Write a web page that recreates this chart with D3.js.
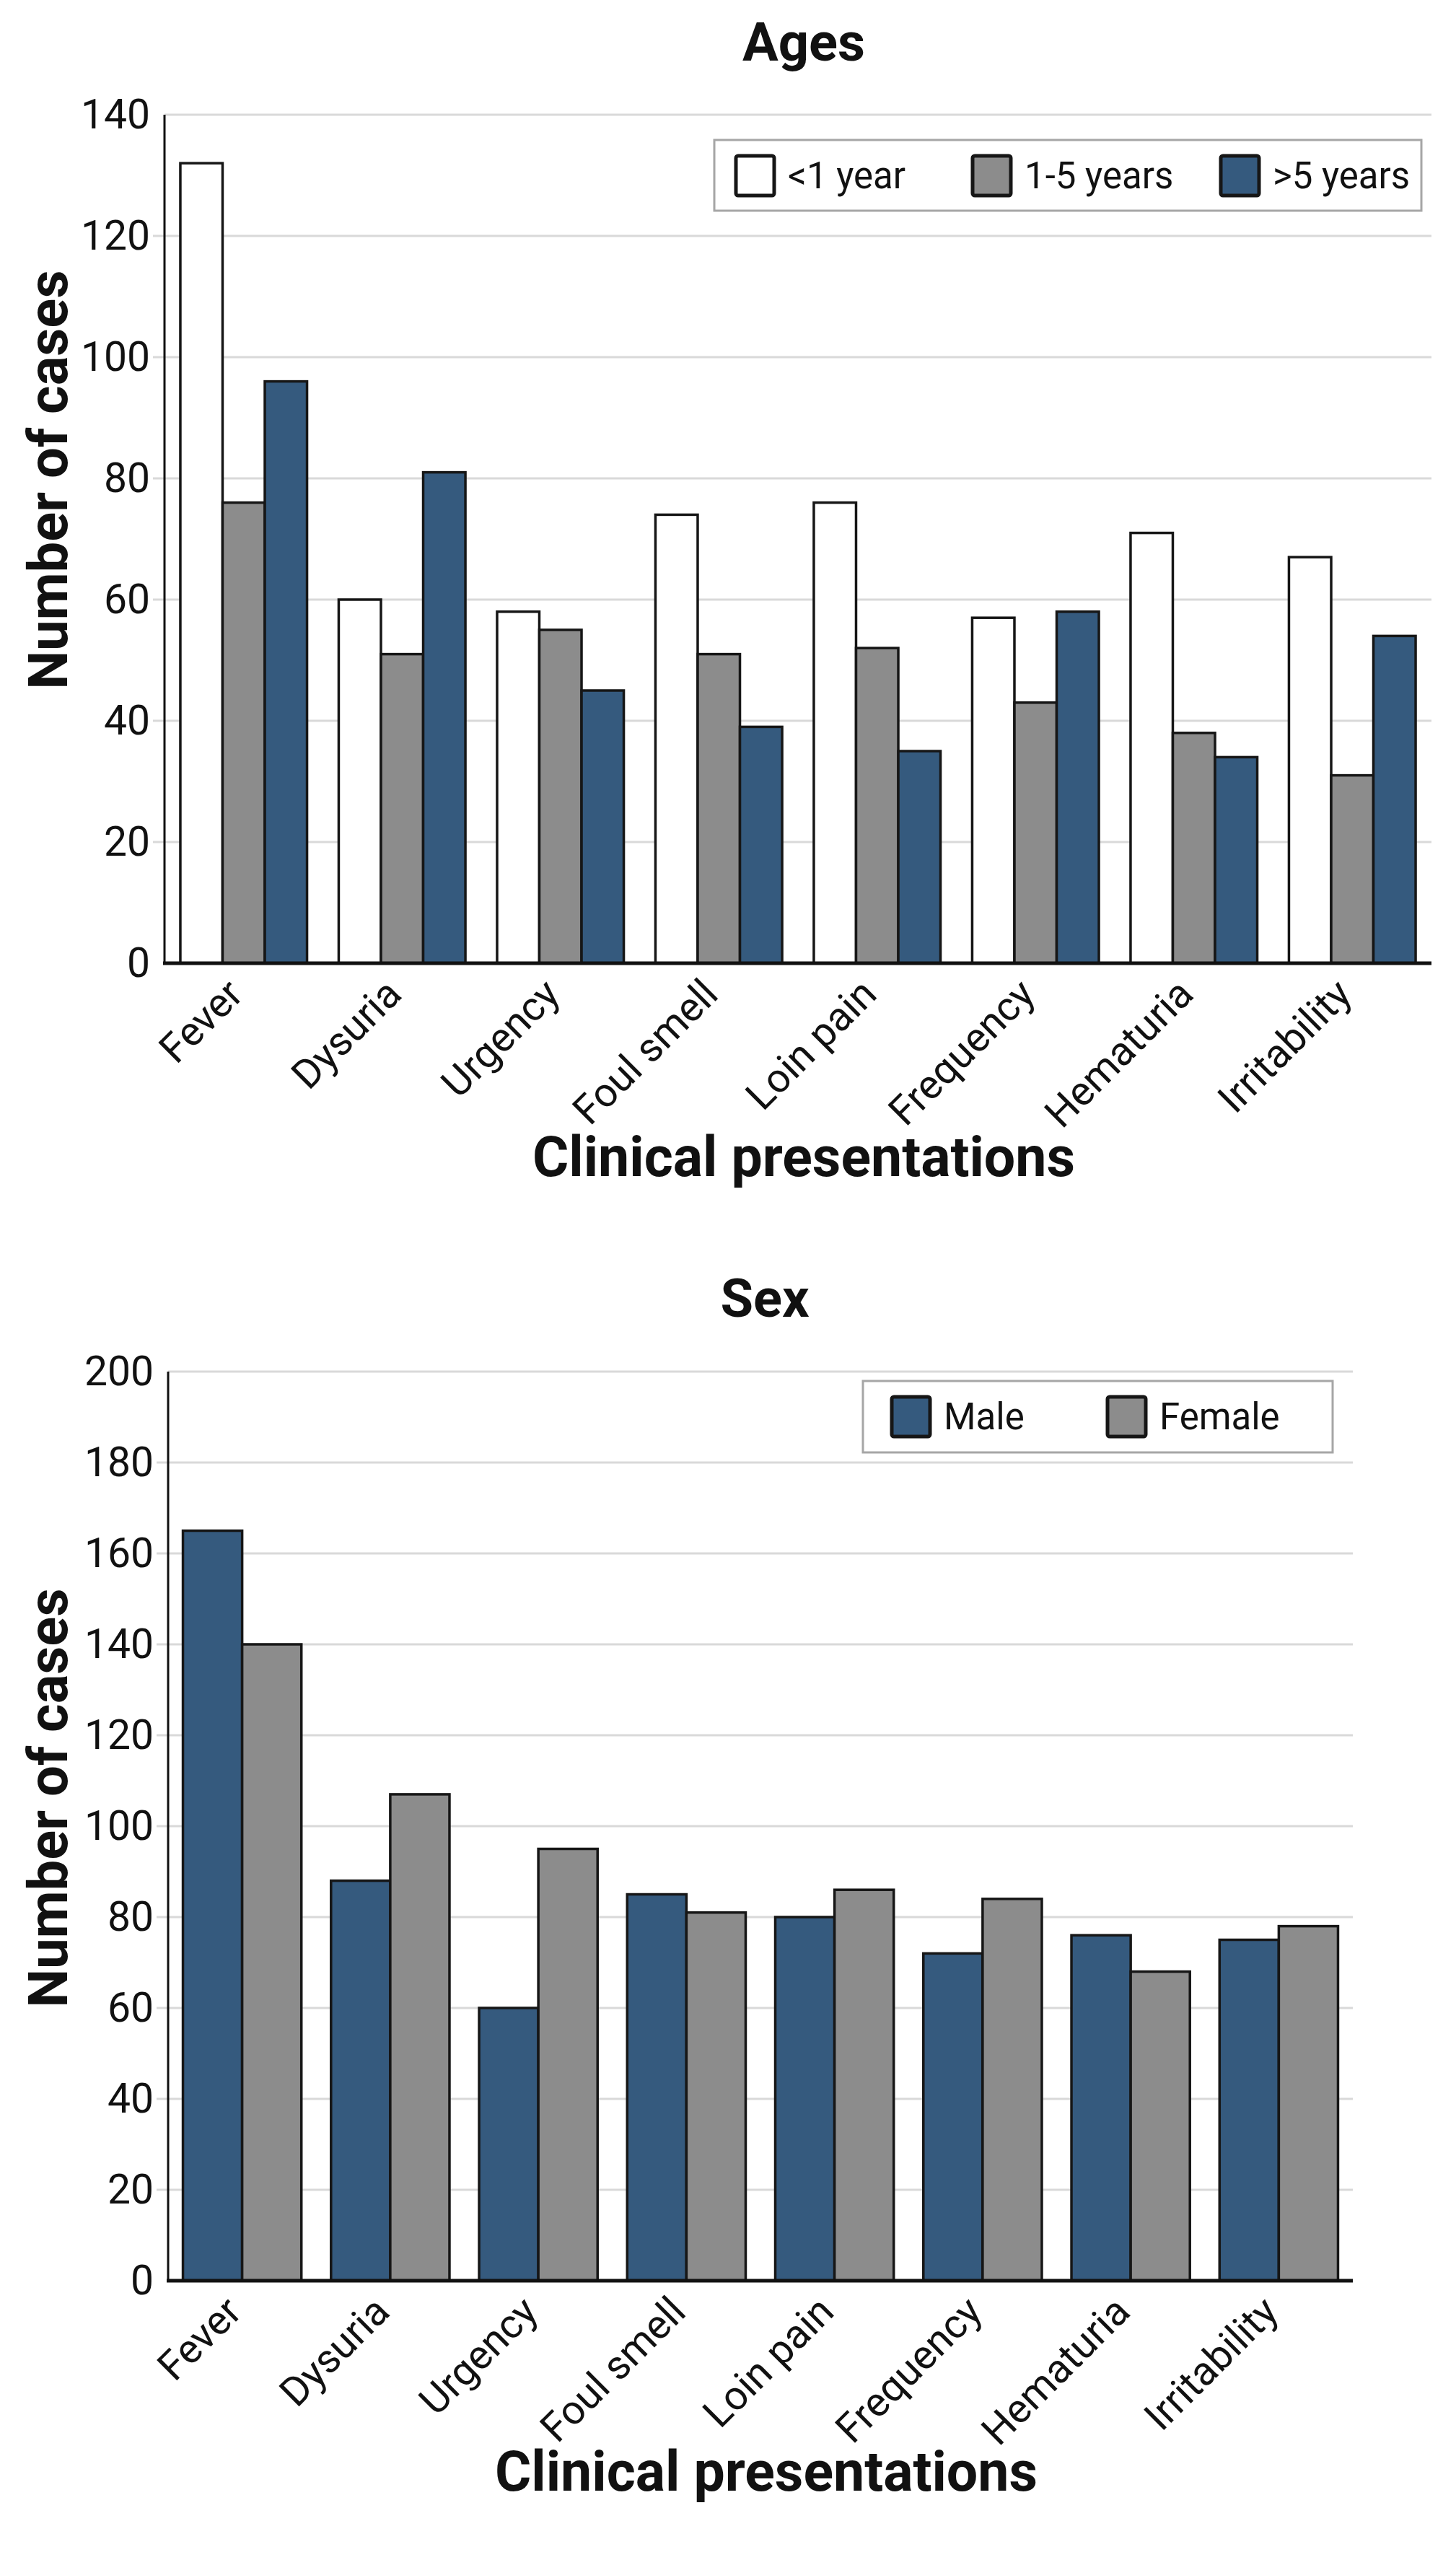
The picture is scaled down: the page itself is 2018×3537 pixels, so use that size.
<!DOCTYPE html>
<html>
<head>
<meta charset="utf-8">
<script src="https://cdn.jsdelivr.net/npm/d3@7"></script>
<style>
  body { margin: 0; background: #fff; }
  text { font-family: Roboto, "Open Sans", sans-serif; fill: #111; }
</style>
</head>
<body>
<svg id="chart" width="2018" height="3537"></svg>
<script>
// data
var categories = ["Fever", "Dysuria", "Urgency", "Foul smell", "Loin pain", "Frequency", "Hematuria", "Irritability"];

var ageSeries = ["<1 year", "1-5 years", ">5 years"];
var ageUnder1 = [132, 60, 58, 74, 76, 57, 71, 67];
var age1to5 = [76, 51, 55, 51, 52, 43, 38, 31];
var ageOver5 = [96, 81, 45, 39, 35, 58, 34, 54];
var ageTicks = [0, 20, 40, 60, 80, 100, 120, 140];

var sexSeries = ["Male", "Female"];
var sexMale = [165, 88, 60, 85, 80, 72, 76, 75];
var sexFemale = [140, 107, 95, 81, 86, 84, 68, 78];
var sexTicks = [0, 20, 40, 60, 80, 100, 120, 140, 160, 180, 200];

var WHITE = "#ffffff", GRAY = "#8c8c8c", BLUE = "#355a7e";

var svg = d3.select("#chart");

function drawPanel(opt) {
	var g = svg.append("g");
	var x0 = d3.scaleBand()
		.domain(categories)
		.range([opt.left, opt.right])
		.paddingInner(0.2)
		.paddingOuter(0.1);
	var x1 = d3.scaleBand()
		.domain(opt.series)
		.range([0, x0.bandwidth()]);
	var y = d3.scaleLinear()
		.domain([0, opt.max])
		.range([opt.bottom, opt.top]);

	// gridlines + little gray ticks left of the axis
	g.append("g").selectAll("line")
		.data(opt.ticks.filter(function(d) { return d > 0; }))
		.join("line")
		.attr("x1", function(d) { return d == opt.max ? opt.left : opt.left - 16; })
		.attr("x2", opt.right)
		.attr("y1", function(d) { return y(d); })
		.attr("y2", function(d) { return y(d); })
		.attr("stroke", "#d9d9d9")
		.attr("stroke-width", 3);

	// y axis
	var yAxis = d3.axisLeft(y).tickValues(opt.ticks).tickSize(0).tickPadding(20);
	var ya = g.append("g")
		.attr("transform", "translate(" + opt.left + ",0)")
		.call(yAxis);
	ya.select(".domain").remove();
	ya.selectAll("text")
		.attr("font-size", 57)
		.attr("font-family", "Roboto, sans-serif")
		.attr("fill", "#111");
	g.append("line")
		.attr("x1", opt.left).attr("x2", opt.left)
		.attr("y1", opt.top).attr("y2", opt.bottom)
		.attr("stroke", "#111").attr("stroke-width", 3);

	// bars
	var groups = g.append("g").selectAll("g")
		.data(categories)
		.join("g")
		.attr("transform", function(d) { return "translate(" + x0(d) + ",0)"; });
	groups.selectAll("rect")
		.data(function(d, i) {
			return opt.series.map(function(s, k) { return {key: s, value: opt.values[k][i], color: opt.colors[k]}; });
		})
		.join("rect")
		.attr("x", function(d) { return x1(d.key); })
		.attr("y", function(d) { return y(d.value); })
		.attr("width", x1.bandwidth())
		.attr("height", function(d) { return y(0) - y(d.value); })
		.attr("fill", function(d) { return d.color; })
		.attr("stroke", "#161616")
		.attr("stroke-width", 3.5);

	// x baseline
	g.append("line")
		.attr("x1", opt.left - 2).attr("x2", opt.right)
		.attr("y1", opt.bottom).attr("y2", opt.bottom)
		.attr("stroke", "#111").attr("stroke-width", 5);

	// category labels
	g.append("g").selectAll("text")
		.data(categories)
		.join("text")
		.attr("transform", function(d) {
			return "translate(" + (x0(d) + x0.bandwidth() / 2 + 2) + "," + (opt.bottom + 46) + ") rotate(-45)";
		})
		.attr("text-anchor", "end")
		.attr("font-size", 56)
		.text(function(d) { return d; });

	// titles
	g.append("text")
		.attr("x", opt.titleX).attr("y", opt.titleY)
		.attr("text-anchor", "middle")
		.attr("font-size", 74).attr("font-weight", "bold")
		.text(opt.title);
	g.append("text")
		.attr("x", opt.xLabelX).attr("y", opt.xLabelY)
		.attr("text-anchor", "middle")
		.attr("font-size", 77).attr("font-weight", "bold")
		.text("Clinical presentations");
	g.append("text")
		.attr("transform", "translate(" + 93 + "," + opt.yLabelY + ") rotate(-90)")
		.attr("text-anchor", "middle")
		.attr("font-size", 76).attr("font-weight", "bold")
		.text("Number of cases");

	// legend
	var lg = opt.legend;
	g.append("rect")
		.attr("x", lg.x).attr("y", lg.y)
		.attr("width", lg.w).attr("height", lg.h)
		.attr("fill", "#fff")
		.attr("stroke", "#a6a6a6").attr("stroke-width", 3);
	var items = g.append("g").selectAll("g")
		.data(opt.series)
		.join("g")
		.attr("transform", function(d, i) { return "translate(" + lg.items[i] + "," + (lg.y + 22) + ")"; });
	items.append("rect")
		.attr("width", 53).attr("height", 55)
		.attr("rx", 3)
		.attr("fill", function(d, i) { return opt.colors[i]; })
		.attr("stroke", "#161616").attr("stroke-width", 5);
	items.append("text")
		.attr("x", 72).attr("y", 45)
		.attr("font-size", 51)
		.text(function(d) { return d; });
}

drawPanel({
	title: "Ages", titleX: 1114, titleY: 84,
	left: 228, right: 1984, top: 159, bottom: 1335,
	max: 140, ticks: ageTicks,
	series: ageSeries,
	values: [ageUnder1, age1to5, ageOver5],
	colors: [WHITE, GRAY, BLUE],
	xLabelX: 1114, xLabelY: 1630,
	yLabelY: 665,
	legend: {x: 990, y: 194, w: 980, h: 98, items: [1020, 1348, 1692]}
});

drawPanel({
	title: "Sex", titleX: 1060, titleY: 1825,
	left: 233, right: 1875, top: 1901, bottom: 3161,
	max: 200, ticks: sexTicks,
	series: sexSeries,
	values: [sexMale, sexFemale],
	colors: [BLUE, GRAY],
	xLabelX: 1062, xLabelY: 3452,
	yLabelY: 2492,
	legend: {x: 1196, y: 1914, w: 651, h: 99, items: [1236, 1535]}
});
</script>
</body>
</html>
